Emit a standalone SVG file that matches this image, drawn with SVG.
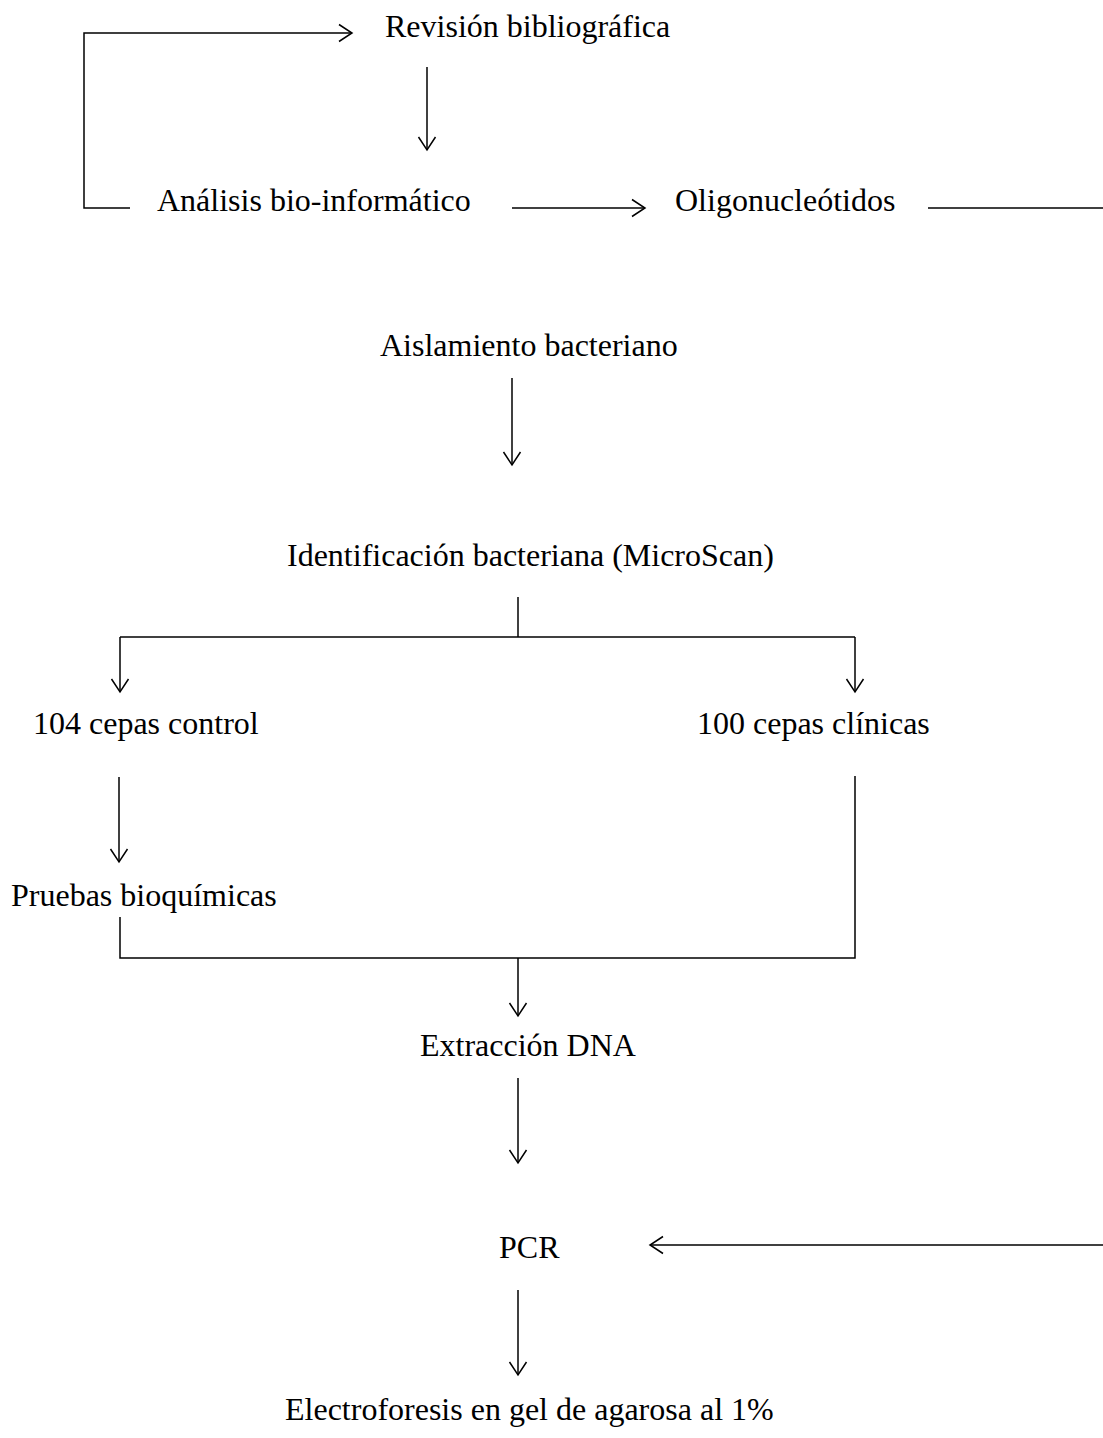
<svg xmlns="http://www.w3.org/2000/svg" width="1103" height="1438" viewBox="0 0 1103 1438">
<style>
text{font-family:"Liberation Serif","Times New Roman",serif;font-size:32px;fill:#000}
.c line,.c path{stroke:#000;stroke-width:1.5;fill:none}
</style>
<defs>
<marker id="ah" markerUnits="userSpaceOnUse" markerWidth="24" markerHeight="24" refX="16" refY="10" orient="auto" viewBox="0 0 24 20">
<path d="M3,1.5 L16,10 L3,18.5" fill="none" stroke="#000" stroke-width="1.5"/>
</marker>
</defs>
<rect width="1103" height="1438" fill="#fff"/>
<g class="c" id="connectors">
<path d="M130,208 H84 V33 H352" marker-end="url(#ah)"/>
<line x1="427" y1="67" x2="427" y2="150" marker-end="url(#ah)"/>
<line x1="512" y1="208" x2="645" y2="208" marker-end="url(#ah)"/>
<line x1="928" y1="208" x2="1103" y2="208"/>
<line x1="512" y1="378" x2="512" y2="465" marker-end="url(#ah)"/>
<line x1="518" y1="597" x2="518" y2="637"/>
<line x1="120" y1="637" x2="855" y2="637"/>
<line x1="120" y1="637" x2="120" y2="692" marker-end="url(#ah)"/>
<line x1="855" y1="637" x2="855" y2="692" marker-end="url(#ah)"/>
<line x1="119" y1="777" x2="119" y2="862" marker-end="url(#ah)"/>
<path d="M120,917 V958 H855 V776"/>
<line x1="518" y1="958" x2="518" y2="1016" marker-end="url(#ah)"/>
<line x1="518" y1="1078" x2="518" y2="1163" marker-end="url(#ah)"/>
<line x1="1103" y1="1245" x2="650" y2="1245" marker-end="url(#ah)"/>
<line x1="518" y1="1290" x2="518" y2="1375" marker-end="url(#ah)"/>
</g>
<g id="n-revision"><text x="385" y="37">Revisión bibliográfica</text></g>
<g id="n-analisis"><text x="157" y="211">Análisis bio-informático</text></g>
<g id="n-oligo"><text x="675" y="211">Oligonucleótidos</text></g>
<g id="n-aislamiento"><text x="380" y="356">Aislamiento bacteriano</text></g>
<g id="n-identificacion"><text x="287" y="566">Identificación bacteriana (MicroScan)</text></g>
<g id="n-control"><text x="33" y="734">104 cepas control</text></g>
<g id="n-clinicas"><text x="697" y="734">100 cepas clínicas</text></g>
<g id="n-pruebas"><text x="11" y="906">Pruebas bioquímicas</text></g>
<g id="n-extraccion"><text x="420" y="1056">Extracción DNA</text></g>
<g id="n-pcr"><text x="499" y="1258">PCR</text></g>
<g id="n-electro"><text x="285" y="1420">Electroforesis en gel de agarosa al 1%</text></g>
</svg>
